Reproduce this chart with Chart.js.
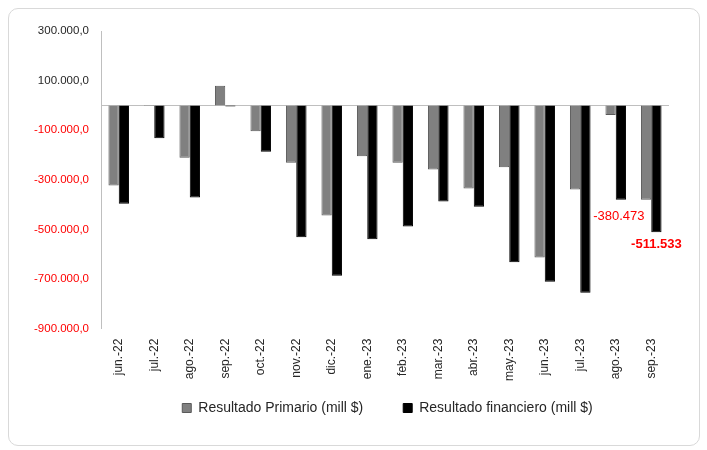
<!DOCTYPE html>
<html>
<head>
<meta charset="utf-8">
<script src="https://cdn.jsdelivr.net/npm/chart.js"></script>
<style>
  html, body { margin: 0; padding: 0; background: #fff; }
  #card {
    position: absolute; left: 8px; top: 8px; width: 692px; height: 438px;
    border: 1px solid #d9d9d9; border-radius: 10px; box-sizing: border-box;
  }
  #wrap { position: absolute; left: 0; top: 0; width: 707px; height: 450px; }
</style>
</head>
<body>
<div id="card"></div>
<div id="wrap"><canvas id="chart" width="707" height="450"></canvas></div>
<script>
const months = ['jun.-22', 'jul.-22', 'ago.-22', 'sep.-22', 'oct.-22', 'nov.-22', 'dic.-22', 'ene.-23',
  'feb.-23', 'mar.-23', 'abr.-23', 'may.-23', 'jun.-23', 'jul.-23', 'ago.-23', 'sep.-23'];

// mill $
const primario = [-323000, -2000, -211000, 79000, -104000, -231000, -444000, -205000,
  -231000, -259000, -335000, -249000, -613000, -339000, -39000, -381000];
const financiero = [-397000, -133000, -371000, -4000, -187000, -532000, -687000, -540000,
  -488000, -388000, -409000, -633000, -711000, -756000, -380473, -511533];

const yTicks = [300000, 100000, -100000, -300000, -500000, -700000, -900000];

// last two months of the financial result get a value label
const labelled = [
  { index: 14, text: '-380.473', bold: false, dx: -2, dy: 10 },
  { index: 15, text: '-511.533', bold: true, dx: 0, dy: 6 }
];

function fmtMiles(v) {
  const s = Math.abs(v).toFixed(0).replace(/\B(?=(\d{3})+(?!\d))/g, '.');
  return (v < 0 ? '-' : '') + s + ',0';
}

const FONT = '"Liberation Sans", Arial, sans-serif';

const zeroLine = {
  id: 'zeroLine',
  beforeDatasetsDraw(chart) {
    const { ctx, chartArea, scales } = chart;
    const y = Math.round(scales.y.getPixelForValue(0)) + 0.5;
    ctx.save();
    ctx.strokeStyle = '#bfbfbf';
    ctx.lineWidth = 1;
    ctx.beginPath();
    ctx.moveTo(chartArea.left, y);
    ctx.lineTo(chartArea.right, y);
    ctx.stroke();
    ctx.restore();
  }
};

// legend sits centred under the plot, a little closer to the month labels
const legendShift = {
  id: 'legendShift',
  afterLayout(chart) {
    const lg = chart.legend;
    lg.left += 53; lg.right += 53;
    lg.top -= 30; lg.bottom -= 30;
  }
};

const valueLabels = {
  id: 'valueLabels',
  afterDatasetsDraw(chart) {
    const { ctx } = chart;
    const meta = chart.getDatasetMeta(1);
    ctx.save();
    ctx.fillStyle = '#ff0000';
    ctx.textAlign = 'center';
    ctx.textBaseline = 'top';
    labelled.forEach(l => {
      const bar = meta.data[l.index];
      ctx.font = (l.bold ? 'bold ' : '') + '13px ' + FONT;
      ctx.fillText(l.text, bar.x + l.dx, bar.y + l.dy);
    });
    ctx.restore();
  }
};

new Chart(document.getElementById('chart'), {
  type: 'bar',
  data: {
    labels: months,
    datasets: [
      {
        label: 'Resultado Primario (mill $)',
        data: primario,
        backgroundColor: '#808080',
        borderColor: '#595959',
        borderWidth: 1,
        categoryPercentage: 0.58,
        barPercentage: 1
      },
      {
        label: 'Resultado financiero (mill $)',
        data: financiero,
        backgroundColor: '#000000',
        borderColor: '#000000',
        borderWidth: 1,
        categoryPercentage: 0.58,
        barPercentage: 1
      }
    ]
  },
  options: {
    responsive: false,
    animation: false,
    layout: { padding: { left: 0, right: 38, top: 31, bottom: -5 } },
    plugins: {
      tooltip: { enabled: false },
      legend: {
        position: 'bottom',
        labels: {
          font: { family: FONT, size: 14 },
          color: '#262626',
          boxWidth: 9,
          boxHeight: 9,
          padding: 40,
          useBorderRadius: false
        }
      }
    },
    scales: {
      x: {
        grid: { display: false, drawTicks: false },
        border: { display: false },
        ticks: {
          font: { family: FONT, size: 12 },
          color: '#262626',
          maxRotation: 90,
          minRotation: 90,
          padding: 10,
          autoSkip: false
        }
      },
      y: {
        min: -900000,
        max: 300000,
        afterBuildTicks(scale) {
          scale.ticks = yTicks.map(v => ({ value: v }));
        },
        afterFit(scale) { scale.width = 101; },
        grid: { display: false, drawTicks: false },
        border: { display: true, color: '#bfbfbf' },
        ticks: {
          font: { family: FONT, size: 11.5 },
          color: c => c.tick.value < 0 ? '#ff0000' : '#262626',
          padding: 12,
          callback: v => fmtMiles(v)
        }
      }
    }
  },
  plugins: [zeroLine, legendShift, valueLabels]
});
</script>
</body>
</html>
